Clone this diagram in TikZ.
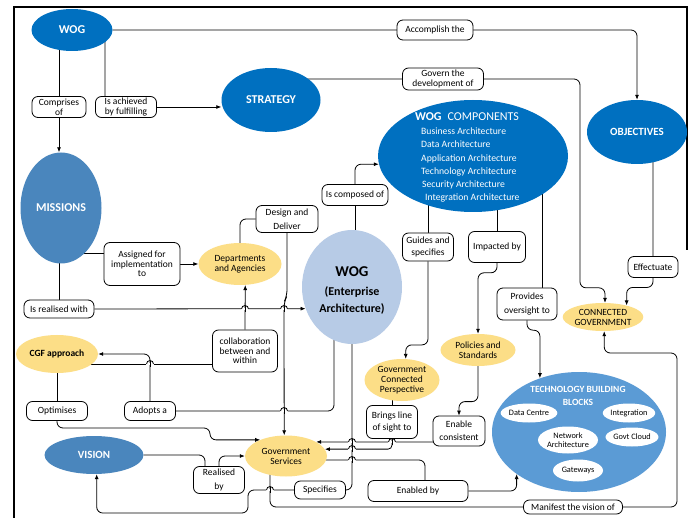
\documentclass[tikz,border=0pt]{standalone}
\usepackage{fontspec}
\setmainfont{Carlito}
\usetikzlibrary{shapes.geometric,arrows.meta,calc}
\pgfdeclarelayer{back}
\pgfdeclarelayer{bg}
\pgfsetlayers{back,bg,main}
\definecolor{dblue}{RGB}{0,112,192}
\definecolor{sblue}{RGB}{74,134,189}
\definecolor{mblue}{RGB}{91,155,213}
\definecolor{lblue}{RGB}{183,203,230}
\definecolor{yel}{RGB}{252,222,135}
\tikzset{
  ell/.style={ellipse, inner sep=0pt, align=center},
  darkell/.style={ell, fill=dblue, text=white, font=\bfseries\fontsize{12}{14}\selectfont},
  steelell/.style={ell, fill=sblue, text=white, font=\bfseries\fontsize{12}{14}\selectfont},
  yelell/.style={ell, fill=yel, font=\fontsize{9.5}{10}\selectfont},
  whiteell/.style={ell, fill=white, font=\fontsize{8.3}{9}\selectfont},
  lab/.style={draw, line width=0.8pt, rounded corners=6pt, fill=white, align=center, inner sep=0pt, font=\fontsize{9.5}{10}\selectfont},
  conn/.style={line width=0.8pt, rounded corners=6pt},
  arr/.style={conn, -{Latex[length=5pt,width=4pt]}},
  hop/.pic={
    \fill[white] (-3.6,-1) rectangle (3.6,1);
    \draw[line width=0.8pt] (0,-2.6) -- (0,2.6);
    \draw[line width=0.8pt] (-3.5,0) arc[start angle=180,end angle=360,radius=3.5];
  }
}
\begin{document}
\begin{tikzpicture}[x=1pt,y=-1pt]
\useasboundingbox (0,0) rectangle (693,518);
\begin{pgfonlayer}{back}
\fill[white] (0,0) rectangle (693,518);
\end{pgfonlayer}
% frame
\fill[black] (12.7,5.6) rectangle (688.3,8.4);
\fill[black] (12.7,5.6) rectangle (15.3,518);
\fill[black] (685.8,5.6) rectangle (688.3,250);

% big ellipses
\node[darkell, minimum width=81pt, minimum height=42pt] (wog) at (72,30) {WOG};
\node[darkell, minimum width=99pt, minimum height=64pt] (strat) at (271,100) {STRATEGY};
\node[steelell, minimum width=81pt, minimum height=111pt] (miss) at (61,208) {MISSIONS};
\node[darkell, minimum width=100pt, minimum height=64pt, font=\bfseries\fontsize{11}{13}\selectfont] (obj) at (637,132) {OBJECTIVES};
\node[ell, fill=dblue, minimum width=190pt, minimum height=112pt] (wogc) at (473,156) {};
\node[text=white, inner sep=0pt, font=\fontsize{12}{14}\selectfont] (wogct) at (467,117) {\textbf{WOG}\enspace COMPONENTS};
\begin{scope}[every node/.style={anchor=base west, text=white, inner sep=0pt, font=\fontsize{9.7}{11}\selectfont}]
\node (c1) at (421,134.8) {Business Architecture};
\node (c2) at (421,148.0) {Data Architecture};
\node (c3) at (421,161.2) {Application Architecture};
\node (c4) at (421,174.4) {Technology Architecture};
\node (c5) at (422,187.6) {Security Architecture};
\node (c6) at (425,200.8) {Integration Architecture};
\end{scope}
\node[yelell, minimum width=83pt, minimum height=42pt] (dept) at (240,264) {Departments\\and Agencies};
\node[ell, fill=lblue, minimum width=100pt, minimum height=114pt] (wogea) at (352,287) {};
\node[anchor=base, inner sep=0pt, font=\bfseries\fontsize{15}{17}\selectfont] (wogea1) at (352,277) {WOG};
\node[anchor=base, inner sep=0pt, font=\bfseries\fontsize{12}{14}\selectfont] (wogea2) at (352,296) {(Enterprise};
\node[anchor=base, inner sep=0pt, font=\bfseries\fontsize{12}{14}\selectfont] (wogea3) at (352,312.5) {Architecture)};
\node[yelell, minimum width=75pt, minimum height=28pt] (cg) at (603,317) {CONNECTED\\GOVERNMENT};
\node[yelell, minimum width=82pt, minimum height=38pt, font=\bfseries\fontsize{9.5}{10}\selectfont] (cgf) at (57,354) {CGF approach};
\node[yelell, minimum width=75pt, minimum height=32pt] (pol) at (478,350) {Policies and\\Standards};
\node[yelell, minimum width=75pt, minimum height=42pt] (gcp) at (402,380) {Government\\Connected\\Perspective};
\node[ell, fill=mblue, minimum width=174pt, minimum height=120pt] (tbb) at (579,432) {};
\node[text=white, align=center, inner sep=0pt, font=\bfseries\fontsize{9.5}{13.5}\selectfont] (tbbt) at (578,396) {TECHNOLOGY BUILDING\\BLOCKS};
\node[whiteell, minimum width=50pt, minimum height=19pt] (dc) at (529,413) {Data Centre};
\node[whiteell, minimum width=50pt, minimum height=19pt] (integ) at (629,413) {Integration};
\node[whiteell, minimum width=60pt, minimum height=27pt] (net) at (568,440) {Network\\Architecture};
\node[whiteell, minimum width=47pt, minimum height=19pt] (cloud) at (632,437) {Govt Cloud};
\node[whiteell, minimum width=50pt, minimum height=22pt] (gw) at (578,470.5) {Gateways};
\node[steelell, minimum width=99pt, minimum height=38pt, font=\bfseries\fontsize{11}{13}\selectfont] (vision) at (94,455) {VISION};
\node[yelell, minimum width=82pt, minimum height=41pt] (gs) at (286,456) {Government\\Services};

% label boxes
\node[lab, minimum width=54pt, minimum height=21pt] (comp) at (59,107) {Comprises\\of};
\node[lab, minimum width=61pt, minimum height=21pt] (achv) at (126,107) {Is achieved\\by fulfilling};
\node[lab, minimum width=76pt, minimum height=20pt] (accm) at (435,30) {Accomplish the};
\node[lab, minimum width=81pt, minimum height=22pt] (govd) at (443,79) {Govern the\\development of};
\node[lab, minimum width=76pt, minimum height=43pt, font=\fontsize{9.5}{9.3}\selectfont] (asgn) at (142,264) {Assigned for\\implementation\\to};
\node[lab, minimum width=62pt, minimum height=27pt, font=\fontsize{9.5}{14}\selectfont] (dsgn) at (287,219) {Design and\\Deliver};
\node[lab, minimum width=66pt, minimum height=21pt] (icmp) at (355,195) {Is composed of};
\node[lab, minimum width=70pt, minimum height=18pt] (real) at (59,309) {Is realised with};
\node[lab, minimum width=51pt, minimum height=28pt, font=\fontsize{9.5}{12.7}\selectfont] (guid) at (428,247) {Guides and\\specifies};
\node[lab, minimum width=57pt, minimum height=31pt] (impc) at (497,247) {Impacted by};
\node[lab, minimum width=50pt, minimum height=21pt] (effc) at (653,267) {Effectuate};
\node[lab, minimum width=60pt, minimum height=32pt, font=\fontsize{9.5}{14}\selectfont] (prov) at (527,304) {Provides\\oversight to};
\node[lab, minimum width=65pt, minimum height=42pt, font=\fontsize{9.5}{9.3}\selectfont] (coll) at (245,351) {collaboration\\between and\\within};
\node[lab, minimum width=61pt, minimum height=19pt] (optm) at (57,411) {Optimises};
\node[lab, minimum width=51pt, minimum height=19pt] (adpt) at (150,411) {Adopts a};
\node[lab, minimum width=51pt, minimum height=33pt, font=\fontsize{9.5}{12.7}\selectfont] (brng) at (392,422) {Brings line\\of sight to};
\node[lab, minimum width=52pt, minimum height=30pt, font=\fontsize{9.5}{12.7}\selectfont] (enab) at (459,431) {Enable\\consistent};
\node[lab, minimum width=51pt, minimum height=27pt, font=\fontsize{9.5}{14}\selectfont] (rlsd) at (219,480) {Realised\\by};
\node[lab, minimum width=51pt, minimum height=18pt] (spec) at (320,490) {Specifies};
\node[lab, minimum width=100pt, minimum height=21pt] (enbl) at (418,491) {Enabled by};
\node[lab, minimum width=99pt, minimum height=14pt] (mani) at (573,507) {Manifest the vision of};

\begin{pgfonlayer}{bg}
\draw[arr] (wog) -| (obj.north);
\draw[arr] (wog -| comp) -- (comp |- miss.north);
\draw[conn] ($(wog)+(33,0)$) |- (achv.center);
\draw[arr] (achv.east) -- (achv.east -| strat.west);
\draw[arr] (strat |- govd) -| ($(cg.82)+(-25,-15)$) -| (cg.82);
\draw[arr] (obj -| effc) |- ($(cg.26)+(0,-18)$) -- (cg.26);
\draw[conn] ($(miss)+(0,45)$) -- ($(asgn)+(0,-11)$);
\draw[arr] (asgn.east) -- (dept.west);
\draw[conn] (miss -| real) -- (real.north);
\draw[arr] (real.east) -- (wogea.205.5);
\draw[conn] (dept) |- (dsgn.west);
\draw[arr] (dsgn.south) -- ($(dsgn)+(0,77)$) -- ($(dsgn)+(-3,83)$) -- (gs.95);
\draw[arr] (coll.north) -- (dept.-76.5);
\draw[conn] ($(coll)+(0,13)$) -- ($(cgf)+(0,10)$);
\draw[conn] ($(wogea)+(-18,0)$) |- (adpt.east);
\draw[arr] (adpt.north) |- (cgf.east);
\draw[conn] (cgf.south) -- (optm.north);
\draw[arr] (optm.south) |- (210,428) |- (gs.148);
\draw[conn] (vision.east) -| ($(rlsd.north)+(-14,0)$);
\draw[arr] (rlsd.north) |- (gs.west);
\draw[conn] (wogea) |- (spec.east);
\draw[arr] (spec.west) -| (248,513) -| (vision.-82);
\draw[conn] ($(gs)+(-16,0)$) |- (mani.west);
\draw[arr] (mani.east) -| (677,353) -| (cg.-85);
\draw[conn] ($(wogc)+(-45,0)$) -- (guid.north);
\draw[arr] (guid.south) |- ($(gcp.80)+(0,-14)$) -- (gcp.80);
\draw[conn] ($(wogc)+(24,0)$) -- (impc.north);
\draw[arr] (impc.south) |- ($(pol.north)+(0,-61)$) -- (pol.north);
\draw[conn] ($(wogc)+(69,0)$) -- ($(prov.north)+(15,0)$);
\draw[arr] (prov.south) |- ($(tbb.126)+(0,-48)$) -- (tbb.126);
\draw[conn] (icmp |- wogea) -- (icmp.south);
\draw[arr] (icmp.north) |- (wogc.185);
\draw[arr] (pol.south) |- ($(enab.north)+(0,-14)$) -- (enab.north);
\draw[arr] ($(enab)+(0,11)$) -- (gs.25);
\draw[conn] (brng.north |- gcp) -- (brng.north);
\draw[arr, rounded corners=4pt] (brng.south) |- (gs.10.3);
\draw[conn] ($(gs)+(0,4)$) -| ($(enbl.north)+(7,0)$);
\draw[arr] (enbl.east) -| (tbb.214);
% hops
\pic at (245,309) {hop};
\pic at (284,309) {hop};
\pic at (284,411) {hop};
\pic at (150,364) {hop};
\pic at (352,442) {hop};
\pic at (392,442) {hop};
\pic at (352,449) {hop};
\pic at (352,460) {hop};
\pic at (270,490) {hop};
\end{pgfonlayer}
\end{tikzpicture}
\end{document}
